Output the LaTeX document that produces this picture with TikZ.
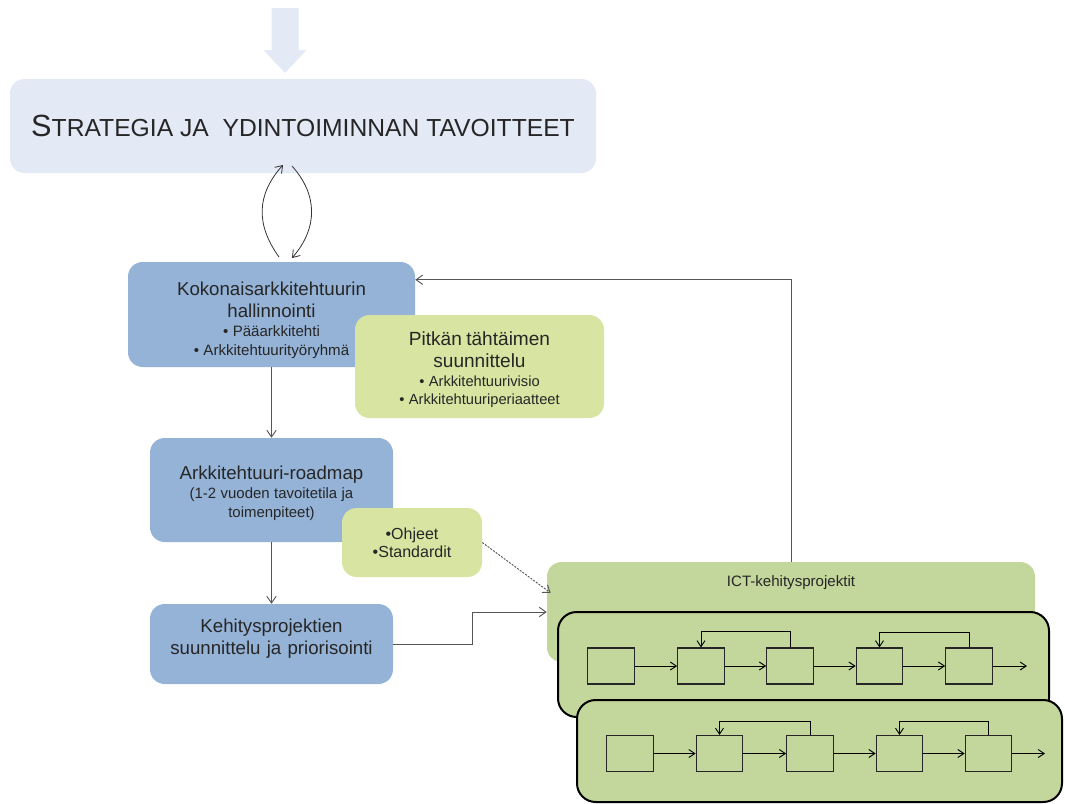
\documentclass[tikz,border=0pt]{standalone}
\usepackage{fontspec}
\setmainfont{Liberation Sans}
\usetikzlibrary{arrows.meta,calc}
\definecolor{stratfill}{HTML}{E3EAF6}
\definecolor{bluefill}{HTML}{95B3D7}
\definecolor{lgreen}{HTML}{D8E4A1}
\definecolor{ictgreen}{HTML}{C3D69B}
\definecolor{conngray}{HTML}{555555}
\begin{document}
\begin{tikzpicture}[x=0.75pt,y=-0.75pt,
  box/.style={rounded corners=11pt, align=center, inner sep=0pt, text=black!85},
  bluebox/.style={box, fill=bluefill},
  greenbox/.style={box, fill=lgreen},
  projbox/.style={rounded corners=14pt, draw=black, line width=1.5pt, fill=ictgreen},
  stepbox/.style={draw=black!85, line width=0.8pt, minimum width=35pt, minimum height=27pt, inner sep=0pt},
  conn/.style={draw=conngray, line width=0.7pt, -{Straight Barb[length=5pt,width=7pt]}},
  flow/.style={draw=black, line width=0.7pt, -{Straight Barb[length=4.5pt,width=6pt]}},
]
\useasboundingbox (0,0) rectangle (1065,804);
\fill[white] (0,0) rectangle (1065,804);

% top big arrow
\fill[stratfill] (271.5,8) -- (298.5,8) -- (298.5,50) -- (306.5,50) -- (285,73) -- (263.5,50) -- (271.5,50) -- cycle;

% strategy box
\node[box, fill=stratfill, minimum width=439.5pt, minimum height=70.5pt] (strat) at (303,126)
  {{\fontsize{23}{26}\selectfont S}{\fontsize{18.5}{22}\selectfont TRATEGIA JA\ \ YDINTOIMINNAN TAVOITTEET}};

% Kokonaisarkkitehtuurin box
\node[bluebox, minimum width=215.25pt, minimum height=78.75pt, text width=210pt] (kok) at (271.5,314.5)
  {{\fontsize{14}{16.2}\selectfont Kokonaisarkkitehtuurin\\hallinnointi\par}%
   {\fontsize{11.3}{14.25}\selectfont • Pääarkkitehti\\• Arkkitehtuurityöryhmä\par}\vspace{-9pt}};

% Pitkan tahtaimen
\node[greenbox, minimum width=186.75pt, minimum height=77.25pt, text width=182pt] (pit) at (479.5,366.5)
  {{\fontsize{14.3}{16.5}\selectfont Pitkän tähtäimen\\suunnittelu\par}%
   {\fontsize{11}{13.8}\selectfont • Arkkitehtuurivisio\\• Arkkitehtuuriperiaatteet\par}\vspace{-5pt}};

% roadmap
\node[bluebox, minimum width=182.25pt, minimum height=78pt, text width=178pt] (road) at (271.5,490)
  {{\fontsize{14}{15}\selectfont Arkkitehtuuri-roadmap\par}%
   {\fontsize{11.2}{14}\selectfont (1-2 vuoden tavoitetila ja\\toimenpiteet)\par}\vspace{-5pt}};

% ohjeet
\node[greenbox, minimum width=105pt, minimum height=51.75pt, text width=100pt, font=\fontsize{12}{13.5}\selectfont] (ohj) at (412,542.5)
  {•Ohjeet\\•Standardit};

% kehitysprojektien
\node[bluebox, minimum width=182.25pt, minimum height=60pt, text width=178pt, font=\fontsize{14}{17}\selectfont] (keh) at (271.5,644)
  {Kehitysprojektien\\suunnittelu ja priorisointi\\[-6pt]\mbox{}};

% ICT box
\node[box, fill=ictgreen, minimum width=366pt, minimum height=75pt] (ict) at (791,612) {};
\node[font=\fontsize{11.3}{13}\selectfont, text=black!85, inner sep=0pt] (icttxt) at (791,583) {ICT-kehitysprojektit};

% project box 1
\node[projbox, minimum width=368.25pt, minimum height=78.75pt] (p1) at (803.5,664.5) {};
\foreach \i/\x in {1/611,2/701,3/790,4/879.5,5/969}
  \node[stepbox] (a\i) at (\x,666) {};
\foreach \i/\j in {1/2,2/3,3/4,4/5}
  \draw[flow] (a\i.east) -- (a\j.west);
\coordinate (aend) at (1027,666);
\draw[flow] (a5.east) -- (aend);
\draw[flow] (a3.north) -- ++(0,-16) -| (a2.north);
\draw[flow] (a5.north) -- ++(0,-15) -| (a4.north);

% project box 2
\node[projbox, minimum width=363.75pt, minimum height=76.5pt] (p2) at (819.5,751) {};
\foreach \i/\x in {1/630,2/719.5,3/810,4/899.5,5/988.5}
  \node[stepbox] (b\i) at (\x,753.5) {};
\foreach \i/\j in {1/2,2/3,3/4,4/5}
  \draw[flow] (b\i.east) -- (b\j.west);
\coordinate (bend) at (1045,753.5);
\draw[flow] (b5.east) -- (bend);
\draw[flow] (b3.north) -- ++(0,-14) -| (b2.north);
\draw[flow] (b5.north) -- ++(0,-14) -| (b4.north);

% cycle arrows between strategy and kokonais
\coordinate (cl1) at (279,257);
\coordinate (cl2) at (283,165);
\coordinate (cr1) at (292,166);
\coordinate (cr2) at (292,258);
\draw[conn, draw=black!80, line width=0.6pt] (cl1) .. controls (256,225) and (256,195) .. (cl2);
\draw[conn, draw=black!80, line width=0.6pt] (cr1) .. controls (318,195) and (318,228) .. (cr2);

% vertical connectors
\draw[conn] (kok.south) -- (road.north);
\draw[conn] (road.south) -- (keh.north);

% feedback from ICT to Kokonais
\draw[conn] (ict.north) |- ($(kok.north east)+(0,18)$);

% kehitys to ICT
\coordinate (kbend) at (472,614);
\draw[conn] (keh.east) -- (keh.east -| kbend) |- (ict.west);

% dotted from ohjeet
\draw[conn, dash pattern=on 1.5pt off 1pt] (ohj.east) -- ($(ict.west)+(4,-19)$);
\end{tikzpicture}
\end{document}
